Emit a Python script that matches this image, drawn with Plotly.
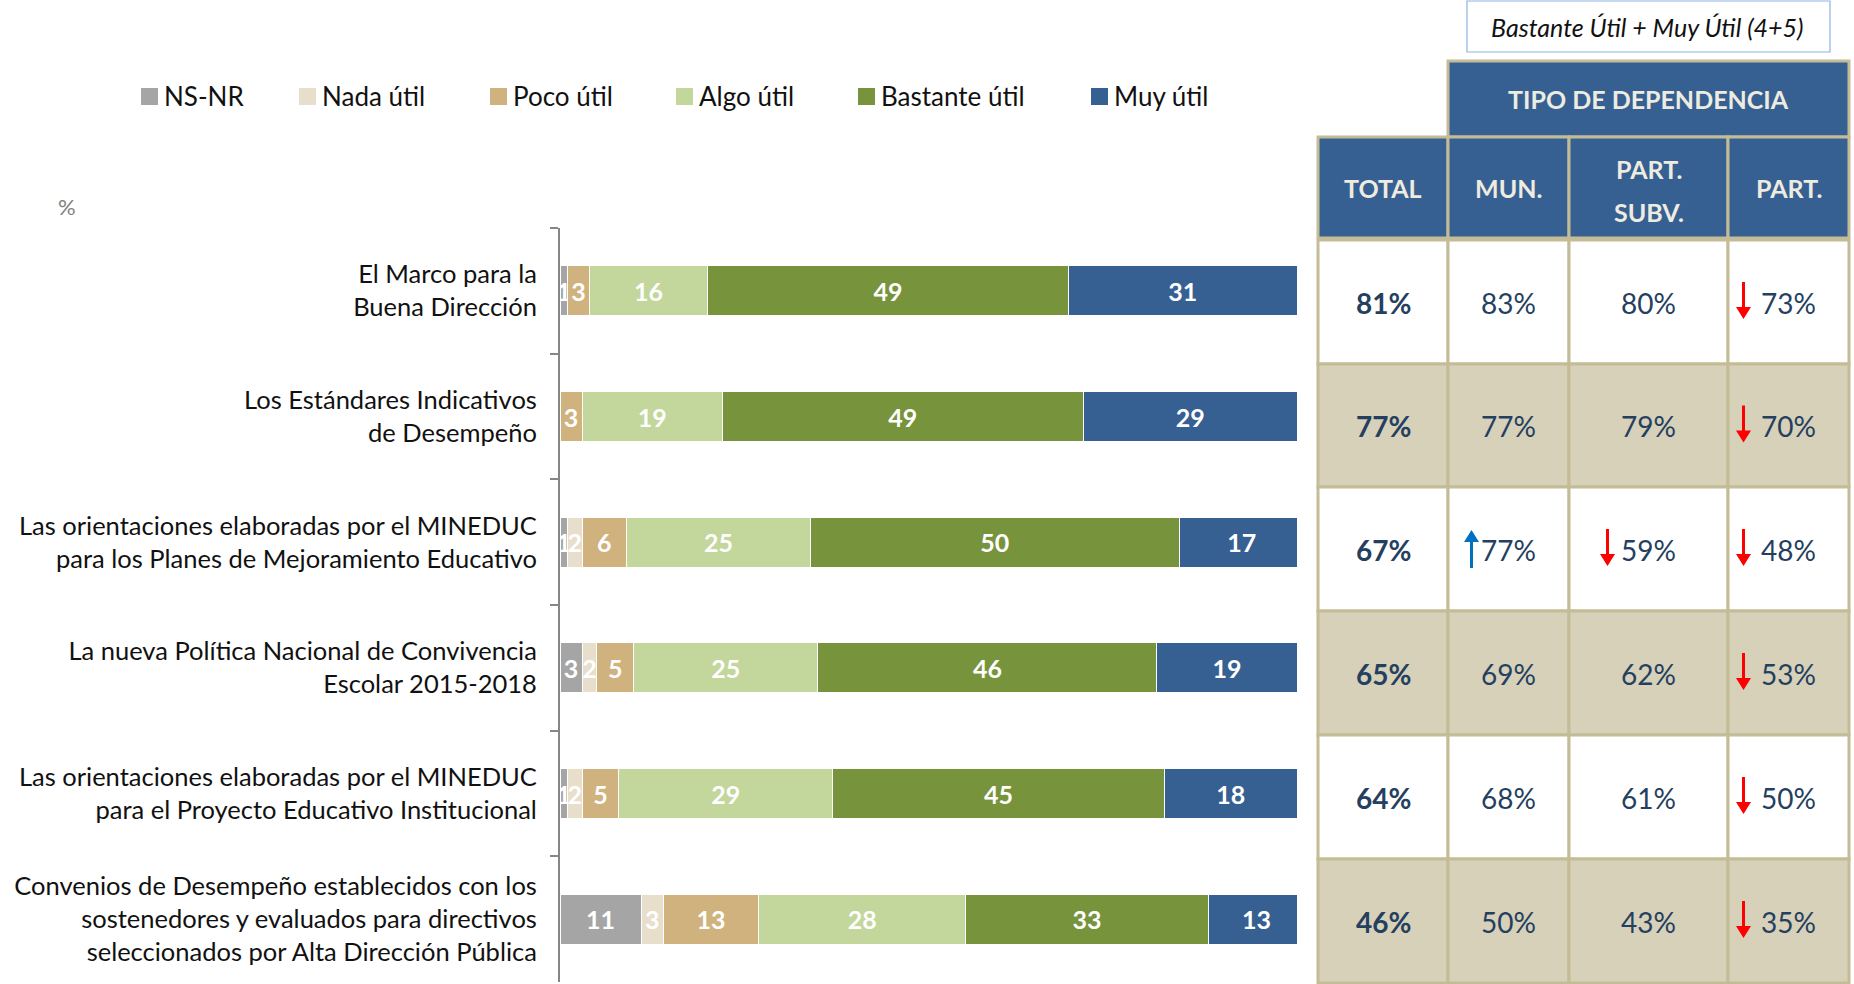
import plotly.graph_objects as go

# ---------------- data ----------------
categories = [
    "El Marco para la<br>Buena Dirección",
    "Los Estándares Indicativos<br>de Desempeño",
    "Las orientaciones elaboradas por el MINEDUC<br>para los Planes de Mejoramiento Educativo",
    "La nueva Política Nacional de Convivencia<br>Escolar 2015-2018",
    "Las orientaciones elaboradas por el MINEDUC<br>para el Proyecto Educativo Institucional",
    "Convenios de Desempeño establecidos con los<br>sostenedores y evaluados para directivos<br>seleccionados por Alta Dirección Pública",
]
series_names = ["NS-NR", "Nada útil", "Poco útil", "Algo útil", "Bastante útil", "Muy útil"]
ns_nr = [1, 0, 1, 3, 1, 11]
nada_util = [0, 0, 2, 2, 2, 3]
poco_util = [3, 3, 6, 5, 5, 13]
algo_util = [16, 19, 25, 25, 29, 28]
bastante_util = [49, 49, 50, 46, 45, 33]
muy_util = [31, 29, 17, 19, 18, 13]
series_values = [ns_nr, nada_util, poco_util, algo_util, bastante_util, muy_util]
series_colors = ["#A5A5A5", "#E7DECB", "#CFB27E", "#C3D69B", "#77933C", "#376092"]

table_title = "Bastante Útil + Muy Útil (4+5)"
group_header = "TIPO DE DEPENDENCIA"
col_headers = ["TOTAL", "MUN.", "PART.<br>SUBV.", "PART."]
total = [81, 77, 67, 65, 64, 46]
mun = [83, 77, 77, 69, 68, 50]
part_subv = [80, 79, 59, 62, 61, 43]
part = [73, 70, 48, 53, 50, 35]
# significance markers: +1 up (blue), -1 down (red), 0 none
mun_sig = [0, 0, 1, 0, 0, 0]
part_subv_sig = [0, 0, -1, 0, 0, 0]
part_sig = [-1, -1, -1, -1, -1, -1]

# ---------------- layout constants ----------------
W, H = 1854, 984
FONT = "Lato"


def px(x):
    return x / W


def py(y):
    return 1 - y / H


fig = go.Figure()
for name, vals, col in zip(series_names, series_values, series_colors):
    fig.add_trace(go.Bar(
        y=categories, x=vals, name=name, orientation="h",
        marker=dict(color=col, line=dict(color="white", width=1)),
        text=[str(v) if v > 0 else "" for v in vals],
        textposition="inside", insidetextanchor="middle",
        constraintext="none", textangle=0,
        textfont=dict(family=FONT, size=25, color="white", weight="bold"),
        width=0.4, showlegend=False,
    ))

fig.update_layout(
    width=W, height=H, barmode="stack",
    margin=dict(l=0, r=0, t=0, b=0),
    paper_bgcolor="white", plot_bgcolor="white",
    font=dict(family=FONT, color="#111111"),
    xaxis=dict(domain=[px(560), px(1297)], range=[0, 100], visible=False, fixedrange=True),
    yaxis=dict(
        domain=[py(982), py(228)], type="category",
        categoryorder="array", categoryarray=categories,
        range=[5.5, -0.5], automargin=False,
        showline=True, linecolor="#868686", linewidth=2,
        ticks="outside", tickson="boundaries", ticklen=8, tickcolor="#868686", tickwidth=2,
        tickfont=dict(family=FONT, size=25.5, color="#111111"),
        ticklabelstandoff=16, showgrid=False, zeroline=False,
    ),
)

shapes = []
ann = []

# legend (manual)
leg_sq_x = [141, 299, 490, 676, 858, 1091]
for name, col, x0 in zip(series_names, series_colors, leg_sq_x):
    shapes.append(dict(type="rect", xref="paper", yref="paper",
                       x0=px(x0), x1=px(x0 + 17), y0=py(105), y1=py(88),
                       fillcolor=col, line=dict(width=0)))
    ann.append(dict(xref="paper", yref="paper", x=px(x0 + 21), y=py(96.5),
                    xanchor="left", yanchor="middle", showarrow=False, text=name,
                    font=dict(family=FONT, size=26, color="#111111")))

# "%" label
ann.append(dict(xref="paper", yref="paper", x=px(67), y=py(207), xanchor="center", yanchor="middle",
                showarrow=False, text="%", font=dict(family=FONT, size=22, color="#7F7F7F")))

# ---------------- table ----------------
BORDER = "#C4BC96"
HEAD = "#376092"
HEAD_TXT = "#EEECE1"
NUM = "#253F60"
BEIGE = "#D6D1B8"
col_x = [1318, 1448, 1569, 1728, 1849]
row_y = [240, 364, 487, 611, 735, 859, 983]

# title box
shapes.append(dict(type="rect", xref="paper", yref="paper", x0=px(1467), x1=px(1830), y0=py(52), y1=py(1),
                   fillcolor="white", line=dict(color="#8EB4E3", width=1.2)))
ann.append(dict(xref="paper", yref="paper", x=px(1647), y=py(27), xanchor="center", yanchor="middle",
                showarrow=False, text="<i>" + table_title + "</i>",
                font=dict(family=FONT, size=25, color="#111111")))

# group header
shapes.append(dict(type="rect", xref="paper", yref="paper", x0=px(col_x[1]), x1=px(col_x[4]),
                   y0=py(137), y1=py(61), fillcolor=HEAD, line=dict(color=BORDER, width=3)))
ann.append(dict(xref="paper", yref="paper", x=px((col_x[1] + col_x[4]) / 2), y=py(99),
                xanchor="center", yanchor="middle", showarrow=False, text="<b>" + group_header + "</b>",
                font=dict(family=FONT, size=25, color=HEAD_TXT)))
# column headers
for i, h in enumerate(col_headers):
    shapes.append(dict(type="rect", xref="paper", yref="paper", x0=px(col_x[i]), x1=px(col_x[i + 1]),
                       y0=py(238), y1=py(137), fillcolor=HEAD, line=dict(color=BORDER, width=3)))
    cx = (col_x[i] + col_x[i + 1]) / 2
    lines = h.split("<br>")
    if len(lines) == 1:
        ys = [188]
    else:
        ys = [169, 212]
    for ln, yy in zip(lines, ys):
        ann.append(dict(xref="paper", yref="paper", x=px(cx), y=py(yy), xanchor="center", yanchor="middle",
                        showarrow=False, text="<b>" + ln + "</b>",
                        font=dict(family=FONT, size=25, color=HEAD_TXT)))

# body cells
cols_vals = [total, mun, part_subv, part]
cols_sig = [None, mun_sig, part_subv_sig, part_sig]
arrow_off = [0, -37, -41, -45]
for r in range(len(total)):
    fill = "white" if r % 2 == 0 else BEIGE
    y0, y1 = row_y[r], row_y[r + 1]
    cy = (y0 + y1) / 2
    for c in range(4):
        shapes.append(dict(type="rect", xref="paper", yref="paper", x0=px(col_x[c]), x1=px(col_x[c + 1]),
                           y0=py(y1), y1=py(y0), fillcolor=fill, line=dict(color=BORDER, width=3)))
        cx = (col_x[c] + col_x[c + 1]) / 2
        v = cols_vals[c][r]
        txt = f"{v}%"
        if c == 0:
            txt = "<b>" + txt + "</b>"
        ann.append(dict(xref="paper", yref="paper", x=px(cx), y=py(cy + 1), xanchor="center", yanchor="middle",
                        showarrow=False, text=txt, font=dict(family=FONT, size=28, color=NUM)))
        if cols_sig[c] is not None and cols_sig[c][r] != 0:
            s = cols_sig[c][r]
            ax_ = cx + arrow_off[c]
            colr = "#FF0000" if s < 0 else "#0070C0"
            if s < 0:
                top, tip = cy - 20, cy + 17
                base = tip - 12
                path = (f"M{px(ax_-1.5)},{py(top)} L{px(ax_+1.5)},{py(top)} L{px(ax_+1.5)},{py(base)} "
                        f"L{px(ax_+7.5)},{py(base)} L{px(ax_)},{py(tip)} L{px(ax_-7.5)},{py(base)} "
                        f"L{px(ax_-1.5)},{py(base)} Z")
            else:
                tip, bot = cy - 19, cy + 19
                base = tip + 12
                path = (f"M{px(ax_-1.5)},{py(bot)} L{px(ax_+1.5)},{py(bot)} L{px(ax_+1.5)},{py(base)} "
                        f"L{px(ax_+7.5)},{py(base)} L{px(ax_)},{py(tip)} L{px(ax_-7.5)},{py(base)} "
                        f"L{px(ax_-1.5)},{py(base)} Z")
            shapes.append(dict(type="path", xref="paper", yref="paper", path=path,
                               fillcolor=colr, line=dict(width=0), layer="above"))

fig.update_layout(shapes=shapes, annotations=ann)

fig.write_html("out.html", config={"displayModeBar": False},
               post_script="document.body.style.margin='0';document.body.style.overflow='hidden';")
